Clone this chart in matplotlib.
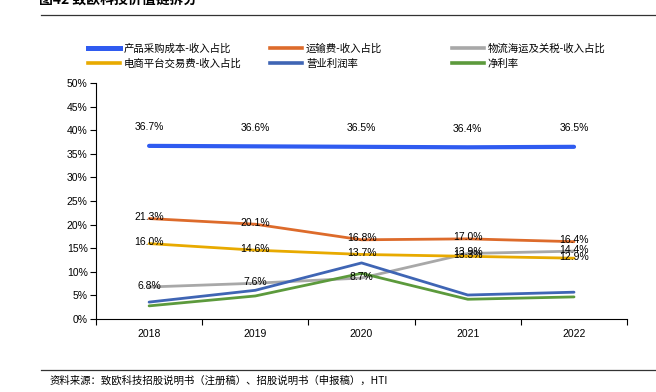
import matplotlib.pyplot as plt
from matplotlib.lines import Line2D

plt.rcParams['font.family'] = ['Liberation Sans', 'Noto Sans CJK SC', 'DejaVu Sans']

years = ['2018', '2019', '2020', '2021', '2022']
caigou = [36.7, 36.6, 36.5, 36.4, 36.5]
yunshu = [21.3, 20.1, 16.8, 17.0, 16.4]
wuliu = [6.8, 7.6, 8.7, 13.9, 14.4]
dianshang = [16.0, 14.6, 13.7, 13.3, 12.9]
yingye = [3.6, 6.1, 11.9, 5.1, 5.7]
jinglilv = [2.8, 4.9, 9.7, 4.2, 4.7]

names = ['产品采购成本-收入占比', '运输费-收入占比', '物流海运及关税-收入占比',
         '电商平台交易费-收入占比', '营业利润率', '净利率']
colors = ['#2F5BF0', '#DD6B2B', '#A8A8A8', '#E8AA00', '#3F65B4', '#5C9A3C']

fig = plt.figure(figsize=(6.56, 3.92), dpi=100)
ax = fig.add_axes([0.1463, 0.186, 0.8097, 0.602])

x = list(range(len(years)))
series = [caigou, yunshu, wuliu, dianshang, yingye, jinglilv]
widths = [3.0, 2.0, 2.0, 2.0, 2.0, 2.0]
for s, c, w in zip(series, colors, widths):
    ax.plot(x, s, color=c, lw=w, solid_capstyle='round')

# labels
for i, v in enumerate(caigou):
    ax.annotate(f'{v:.1f}%', (i, v), xytext=(0, 13.5), textcoords='offset points',
                ha='center', va='center', fontsize=7.5)
for s in [yunshu, wuliu, dianshang]:
    for i, v in enumerate(s):
        ax.annotate(f'{v:.1f}%', (i, v), xytext=(0, 1), textcoords='offset points',
                    ha='center', va='center', fontsize=7.5)

ax.set_xlim(-0.5, 4.5)
ax.set_ylim(0, 50)
ax.set_yticks(range(0, 51, 5))
ax.set_yticklabels([f'{t}%' for t in range(0, 51, 5)], fontsize=7.5)
ax.set_xticks([i - 0.5 for i in range(6)], minor=False)
ax.set_xticklabels([])
ax.set_xticks(x, minor=True)
ax.set_xticklabels(years, minor=True, fontsize=7.5)
ax.tick_params(axis='x', which='minor', length=0, pad=7)
ax.tick_params(axis='x', which='major', length=4, direction='out')
ax.tick_params(axis='y', length=4, direction='out', pad=2)
for sp in ['top', 'right']:
    ax.spines[sp].set_visible(False)

# legend: three columns of two
handles = [Line2D([0], [0], color=c, lw=w + 0.6) for c, w in zip(colors, widths)]
col_x = [88, 270, 452]
for j, cx in enumerate(col_x):
    idx = [j, j + 3]
    leg = fig.legend([handles[k] for k in idx], [names[k] for k in idx],
                     loc='upper left', bbox_to_anchor=(cx / 656, 1 - 43.5 / 392),
                     frameon=False, borderpad=0, borderaxespad=0,
                     handlelength=3.1, handletextpad=0.35, labelspacing=0.45,
                     prop={'family': ['Noto Sans CJK SC'], 'size': 7.5})

fig.text(0.06, 1.0, '图42 致欧科技价值链拆分', fontsize=10, fontweight='bold',
         va='center', family=['Noto Sans CJK SC'])
fig.add_artist(Line2D([0.063, 1.0], [0.962, 0.962], color='#333333', lw=0.9))
fig.add_artist(Line2D([0.063, 1.0], [0.057, 0.057], color='#333333', lw=0.9))
fig.text(0.075, 0.03, '资料来源：致欧科技招股说明书（注册稿）、招股说明书（申报稿），HTI',
         fontsize=7.5, va='center', family=['Noto Sans CJK SC', 'DejaVu Sans'])

fig.savefig('out.png', dpi=100)
